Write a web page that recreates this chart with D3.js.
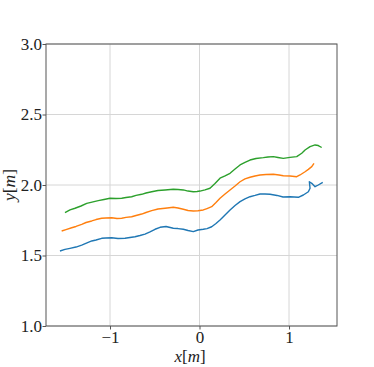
<!DOCTYPE html>
<html>
<head>
<meta charset="utf-8">
<script src="https://cdn.jsdelivr.net/npm/d3@7"></script>
<style>
  body { margin: 0; background: #fff; }
</style>
</head>
<body>
<div id="chart"></div>
<script>
// trajectories, x/y in metres
const blueX = [-1.559, -1.503, -1.447, -1.380, -1.316, -1.257, -1.204, -1.156, -1.093, -1.045, -0.981, -0.911, -0.832, -0.777, -0.721, -0.665, -0.609, -0.553, -0.497, -0.441, -0.374, -0.293, -0.240, -0.181, -0.128, -0.069, -0.017, 0.042, 0.084, 0.136, 0.184, 0.229, 0.285, 0.341, 0.397, 0.453, 0.508, 0.564, 0.620, 0.676, 0.732, 0.788, 0.866, 0.933, 1.011, 1.104, 1.160, 1.216, 1.235, 1.227, 1.254, 1.291, 1.327, 1.377];
const blueY = [1.532, 1.543, 1.551, 1.560, 1.574, 1.589, 1.603, 1.610, 1.622, 1.624, 1.626, 1.621, 1.622, 1.628, 1.633, 1.642, 1.652, 1.667, 1.686, 1.700, 1.706, 1.693, 1.691, 1.686, 1.677, 1.669, 1.681, 1.686, 1.691, 1.704, 1.727, 1.752, 1.787, 1.823, 1.855, 1.882, 1.901, 1.917, 1.926, 1.936, 1.936, 1.934, 1.926, 1.915, 1.917, 1.913, 1.929, 1.952, 1.977, 2.023, 2.012, 1.988, 2.000, 2.019];

const orangeX = [-1.540, -1.492, -1.428, -1.380, -1.316, -1.268, -1.204, -1.156, -1.093, -1.045, -0.981, -0.922, -0.869, -0.821, -0.758, -0.709, -0.646, -0.598, -0.534, -0.464, -0.385, -0.293, -0.240, -0.181, -0.128, -0.069, -0.017, 0.042, 0.084, 0.136, 0.184, 0.229, 0.285, 0.341, 0.397, 0.453, 0.508, 0.564, 0.620, 0.676, 0.743, 0.825, 0.888, 0.936, 1.011, 1.086, 1.123, 1.179, 1.216, 1.254, 1.279];
const orangeY = [1.674, 1.684, 1.697, 1.706, 1.721, 1.734, 1.745, 1.755, 1.764, 1.766, 1.768, 1.762, 1.764, 1.770, 1.775, 1.784, 1.794, 1.805, 1.818, 1.830, 1.835, 1.842, 1.837, 1.828, 1.819, 1.816, 1.817, 1.823, 1.833, 1.846, 1.876, 1.906, 1.936, 1.965, 1.993, 2.023, 2.043, 2.055, 2.064, 2.071, 2.074, 2.076, 2.071, 2.066, 2.064, 2.059, 2.071, 2.094, 2.111, 2.130, 2.154];

const greenX = [-1.503, -1.447, -1.391, -1.324, -1.260, -1.201, -1.131, -1.067, -1.000, -0.933, -0.869, -0.821, -0.758, -0.709, -0.646, -0.598, -0.534, -0.464, -0.385, -0.293, -0.240, -0.181, -0.128, -0.069, -0.028, 0.006, 0.061, 0.117, 0.173, 0.229, 0.285, 0.341, 0.397, 0.453, 0.508, 0.564, 0.631, 0.713, 0.765, 0.825, 0.877, 0.936, 1.011, 1.086, 1.142, 1.179, 1.235, 1.291, 1.327, 1.365];
const greenY = [1.804, 1.823, 1.835, 1.851, 1.870, 1.879, 1.889, 1.897, 1.906, 1.904, 1.906, 1.911, 1.917, 1.926, 1.934, 1.943, 1.952, 1.961, 1.965, 1.970, 1.968, 1.965, 1.957, 1.952, 1.954, 1.957, 1.965, 1.977, 2.011, 2.048, 2.064, 2.083, 2.113, 2.142, 2.160, 2.177, 2.188, 2.194, 2.199, 2.201, 2.195, 2.189, 2.196, 2.201, 2.225, 2.248, 2.272, 2.284, 2.280, 2.266];

const xTicks = [-1, 0, 1];
const yTicks = [1.0, 1.5, 2.0, 2.5, 3.0];
const xDomain = [-1.715, 1.536];
const yDomain = [1.0, 3.0];

const series = [
    { xs: blueX, ys: blueY, color: "#1f77b4" },
    { xs: orangeX, ys: orangeY, color: "#ff7f0e" },
    { xs: greenX, ys: greenY, color: "#2ca02c" }
];

const FONT = "Liberation Serif";
const W = 374, H = 367;
const margin = { top: 44, right: 37, bottom: 41, left: 46 };

const svg = d3.select("#chart").append("svg")
    .attr("width", W)
    .attr("height", H)
    .attr("font-family", FONT);

const x = d3.scaleLinear().domain(xDomain).range([margin.left, W - margin.right]);
const y = d3.scaleLinear().domain(yDomain).range([H - margin.bottom, margin.top]);

// grid
const grid = svg.append("g").attr("stroke", "#d6d6d6").attr("stroke-width", 1);
xTicks.forEach(t => {
    grid.append("line")
        .attr("x1", x(t)).attr("x2", x(t))
        .attr("y1", y(yDomain[0])).attr("y2", y(yDomain[1]));
});
yTicks.forEach(t => {
    grid.append("line")
        .attr("x1", x(xDomain[0])).attr("x2", x(xDomain[1]))
        .attr("y1", y(t)).attr("y2", y(t));
});

// lines
const line = d3.line()
    .x(d => x(d[0]))
    .y(d => y(d[1]));

series.forEach(s => {
    const pts = s.xs.map((v, i) => [v, s.ys[i]]);
    svg.append("path")
        .datum(pts)
        .attr("fill", "none")
        .attr("stroke", s.color)
        .attr("stroke-width", 1.4)
        .attr("stroke-linejoin", "round")
        .attr("d", line);
});

// axes
const xAxis = svg.append("g")
    .attr("transform", `translate(0,${H - margin.bottom})`)
    .call(d3.axisBottom(x).tickValues(xTicks).tickSize(3.5).tickPadding(1)
        .tickFormat(d => d < 0 ? "\u2212" + Math.abs(d) : d));
const yAxis = svg.append("g")
    .attr("transform", `translate(${margin.left},0)`)
    .call(d3.axisLeft(y).tickValues(yTicks).tickSize(3.5).tickPadding(0.5)
        .tickFormat(d3.format(".1f")));

[xAxis, yAxis].forEach(a => {
    a.attr("font-family", FONT).attr("font-size", 17);
    a.select(".domain").remove();
    a.selectAll(".tick line").attr("stroke", "#555");
    a.selectAll(".tick text").attr("fill", "#222");
});

// frame
svg.append("rect")
    .attr("x", x(xDomain[0])).attr("y", y(yDomain[1]))
    .attr("width", x(xDomain[1]) - x(xDomain[0]))
    .attr("height", y(yDomain[0]) - y(yDomain[1]))
    .attr("fill", "none")
    .attr("stroke", "#555")
    .attr("stroke-width", 1);

// axis labels
const xl = svg.append("text")
    .attr("x", 190)
    .attr("y", 361.5)
    .attr("text-anchor", "middle")
    .attr("font-size", 17)
    .attr("fill", "#222");
xl.append("tspan").attr("font-style", "italic").text("x");
xl.append("tspan").text("[");
xl.append("tspan").attr("font-style", "italic").text("m");
xl.append("tspan").text("]");

const yl = svg.append("text")
    .attr("transform", `translate(15,${(y(yDomain[0]) + y(yDomain[1])) / 2}) rotate(-90)`)
    .attr("text-anchor", "middle")
    .attr("font-size", 17.5)
    .attr("fill", "#222");
yl.append("tspan").attr("font-style", "italic").text("y");
yl.append("tspan").text("[");
yl.append("tspan").attr("font-style", "italic").text("m");
yl.append("tspan").text("]");
</script>
</body>
</html>
